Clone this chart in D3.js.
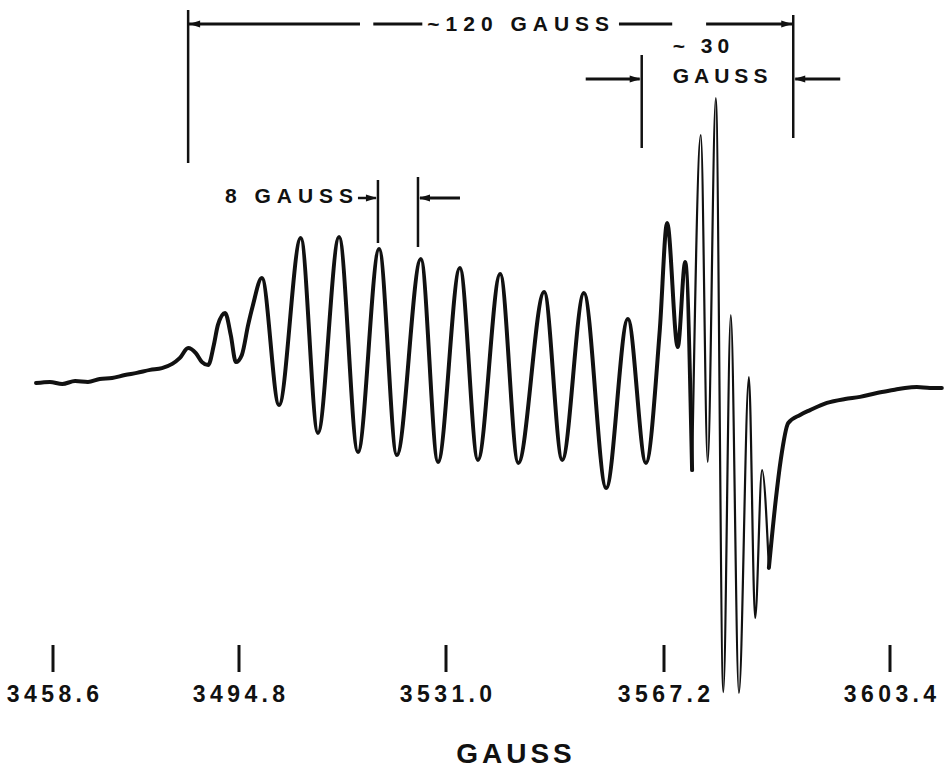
<!DOCTYPE html>
<html>
<head>
<meta charset="utf-8">
<script src="https://cdn.jsdelivr.net/npm/d3@7"></script>
<style>
  html, body { margin: 0; background: #fff; }
  svg { display: block; }
</style>
</head>
<body>
<svg id="chart" width="944" height="770"></svg>
<script>
// Field markers written on the recorder trace (gauss)
const fieldTicks = [3458.6, 3494.8, 3531.0, 3567.2, 3603.4];
const tickLabels = ["3458.6", "3494.8", "3531.0", "3567.2", "3603.4"];

// First-derivative EPR trace: magnetic field (G) and signal (arbitrary units)
const fieldG = [
  3455.3, 3458.0, 3460.4, 3462.9, 3465.4, 3467.7, 3470.1, 3472.6, 3474.9, 3477.5,
  3479.8, 3481.8, 3483.3, 3484.9, 3486.4, 3487.6, 3488.8, 3489.9, 3490.7, 3492.1,
  3493.2, 3494.2, 3495.3, 3496.4, 3497.2, 3498.8, 3501.8, 3505.6, 3508.6, 3512.3,
  3515.6, 3519.3, 3522.4, 3526.6, 3529.6, 3533.3, 3536.3, 3540.0, 3543.0, 3547.3,
  3550.3, 3553.9, 3557.6, 3561.2, 3564.2, 3566.5, 3567.7, 3569.4, 3570.6, 3571.7,
  3573.1, 3574.2, 3575.5, 3576.7, 3577.9, 3579.2, 3580.8, 3581.8, 3582.9, 3584.0,
  3585.1, 3585.9, 3587.1, 3589.0, 3590.6, 3593.3, 3596.2, 3598.6, 3601.3, 3603.9,
  3605.8, 3607.7, 3609.8, 3611.7
];
const signal = [
  -0.7, -0.3, -1.0, 0.0, -0.3, 0.7, 1.0, 2.0, 2.7, 3.7,
  4.3, 5.7, 7.7, 11.0, 9.3, 6.3, 5.3, 12.0, 18.7, 22.7,
  15.3, 6.3, 8.7, 18.7, 25.0, 34.3, -8.0, 47.7, -17.3, 48.0,
  -23.7, 44.0, -24.7, 40.7, -27.0, 37.7, -26.3, 35.7, -27.3, 29.7,
  -26.3, 29.3, -35.7, 20.7, -27.3, 17.0, 52.7, 11.3, 39.7, -29.7,
  82.0, -27.0, 94.3, -103.7, 22.0, -104.0, 1.3, -79.0, -29.7, -62.3,
  -39.7, -26.3, -14.0, -11.3, -9.7, -7.3, -6.0, -5.3, -4.0, -3.0,
  -2.3, -2.0, -2.3, -2.3
];

// Field region where the pen sweeps fast and the ink thins out
const fastSweep = [3571.7, 3584.0];

// Spans marked on the trace (gauss)
const span120 = [3484.9, 3587.9];
const span30 = [3563.5, 3587.9];
const span8 = [3519.1, 3526.1];
const spanLabels = ["~120 GAUSS", "~ 30", "GAUSS", "8 GAUSS"];
const axisTitle = "GAUSS";

const svg = d3.select("#chart");
const ink = "#111";
const font = "'Liberation Sans', Arial, sans-serif";

// The recorder sweep is not linear in field, so the field scale is piecewise
const x = d3.scaleLinear().domain(fieldTicks).range([53, 239, 446, 664, 890]);
const y = d3.scaleLinear().domain([-100, 100]).range([681, 81]);

const pts = fieldG.map((g, i) => ({ g, v: signal[i] }));
const line = d3.line().x(d => x(d.g)).y(d => y(d.v)).curve(d3.curveMonotoneX);

const slowA = pts.filter(d => d.g <= fastSweep[0]);
const fast = pts.filter(d => d.g >= fastSweep[0] && d.g <= fastSweep[1]);
const slowB = pts.filter(d => d.g >= fastSweep[1]);

const trace = svg.append("g")
  .attr("fill", "none").attr("stroke", ink)
  .attr("stroke-linecap", "round").attr("stroke-linejoin", "round");
trace.append("path").attr("d", line(slowA)).attr("stroke-width", 4);
trace.append("path").attr("d", line(fast)).attr("stroke-width", 2.2);
trace.append("path").attr("d", line(slowB)).attr("stroke-width", 4);

// Field marker ticks and labels
const axis = svg.append("g");
axis.selectAll("line").data(fieldTicks).join("line")
  .attr("x1", d => x(d)).attr("x2", d => x(d))
  .attr("y1", 645).attr("y2", 672)
  .attr("stroke", ink).attr("stroke-width", 3);
axis.selectAll("text").data(fieldTicks).join("text")
  .attr("x", d => x(d)).attr("y", 702)
  .attr("dx", 2.2)
  .attr("text-anchor", "middle")
  .attr("font-family", font).attr("font-weight", "bold")
  .attr("font-size", 23).attr("letter-spacing", 4.4)
  .attr("fill", ink)
  .text((d, i) => tickLabels[i]);

svg.append("text")
  .attr("x", 514).attr("y", 763).attr("dx", 2)
  .attr("text-anchor", "middle")
  .attr("font-family", font).attr("font-weight", "bold")
  .attr("font-size", 28).attr("letter-spacing", 4)
  .attr("fill", ink)
  .text(axisTitle);

// Dimension annotations
const ann = svg.append("g").attr("stroke", ink).attr("fill", ink);

function hline(x1, x2, yy, w) {
  ann.append("line").attr("x1", x1).attr("x2", x2).attr("y1", yy).attr("y2", yy)
    .attr("stroke-width", w || 3);
}
function vline(xx, y1, y2, w) {
  ann.append("line").attr("x1", xx).attr("x2", xx).attr("y1", y1).attr("y2", y2)
    .attr("stroke-width", w || 2.5);
}
function head(tipX, yy, dir) {
  // dir = +1 points right, -1 points left
  const L = 11, H = 3.6;
  ann.append("path")
    .attr("stroke", "none")
    .attr("d", `M${tipX},${yy} L${tipX - dir * L},${yy - H} L${tipX - dir * L},${yy + H} Z`);
}
function label(txt, xx, yy, anchor, size, spacing) {
  svg.append("text")
    .attr("x", xx).attr("y", yy)
    .attr("text-anchor", anchor)
    .attr("font-family", font).attr("font-weight", "bold")
    .attr("font-size", size).attr("letter-spacing", spacing)
    .attr("fill", ink)
    .text(txt);
}

// ~120 gauss span
{
  const a = x(span120[0]), b = x(span120[1]), w = b - a;
  const yy = 24;
  vline(a, 10, 163);
  vline(b, 15, 138);
  hline(a, a + 0.284 * w, yy);
  hline(a + 0.306 * w, a + 0.387 * w, yy);
  hline(a + 0.712 * w, a + 0.80 * w, yy);
  hline(a + 0.856 * w, b, yy);
  head(a + 1, yy, -1);
  head(b - 1, yy, 1);
  label(spanLabels[0], a + 0.5455 * w + 3, 31, "middle", 21, 6);
}

// ~30 gauss span
{
  const a = x(span30[0]), b = x(span30[1]);
  const yy = 79;
  vline(a, 55, 148);
  hline(a - 56, a - 2, yy);
  head(a - 1, yy, 1);
  hline(b + 2, b + 47, yy);
  head(b + 1, yy, -1);
  label(spanLabels[1], a + 31, 53, "start", 21, 5);
  label(spanLabels[2], a + 31, 83, "start", 21, 5);
}

// 8 gauss span
{
  const a = x(span8[0]), b = x(span8[1]);
  const yy = 198;
  vline(a, 180, 243);
  vline(b, 177, 247);
  hline(a - 20, a - 2, yy, 2.5);
  head(a - 1, yy, 1);
  hline(b + 2, b + 42, yy);
  head(b + 1, yy, -1);
  label(spanLabels[3], a - 153, 203, "start", 21, 6);
}
</script>
</body>
</html>
